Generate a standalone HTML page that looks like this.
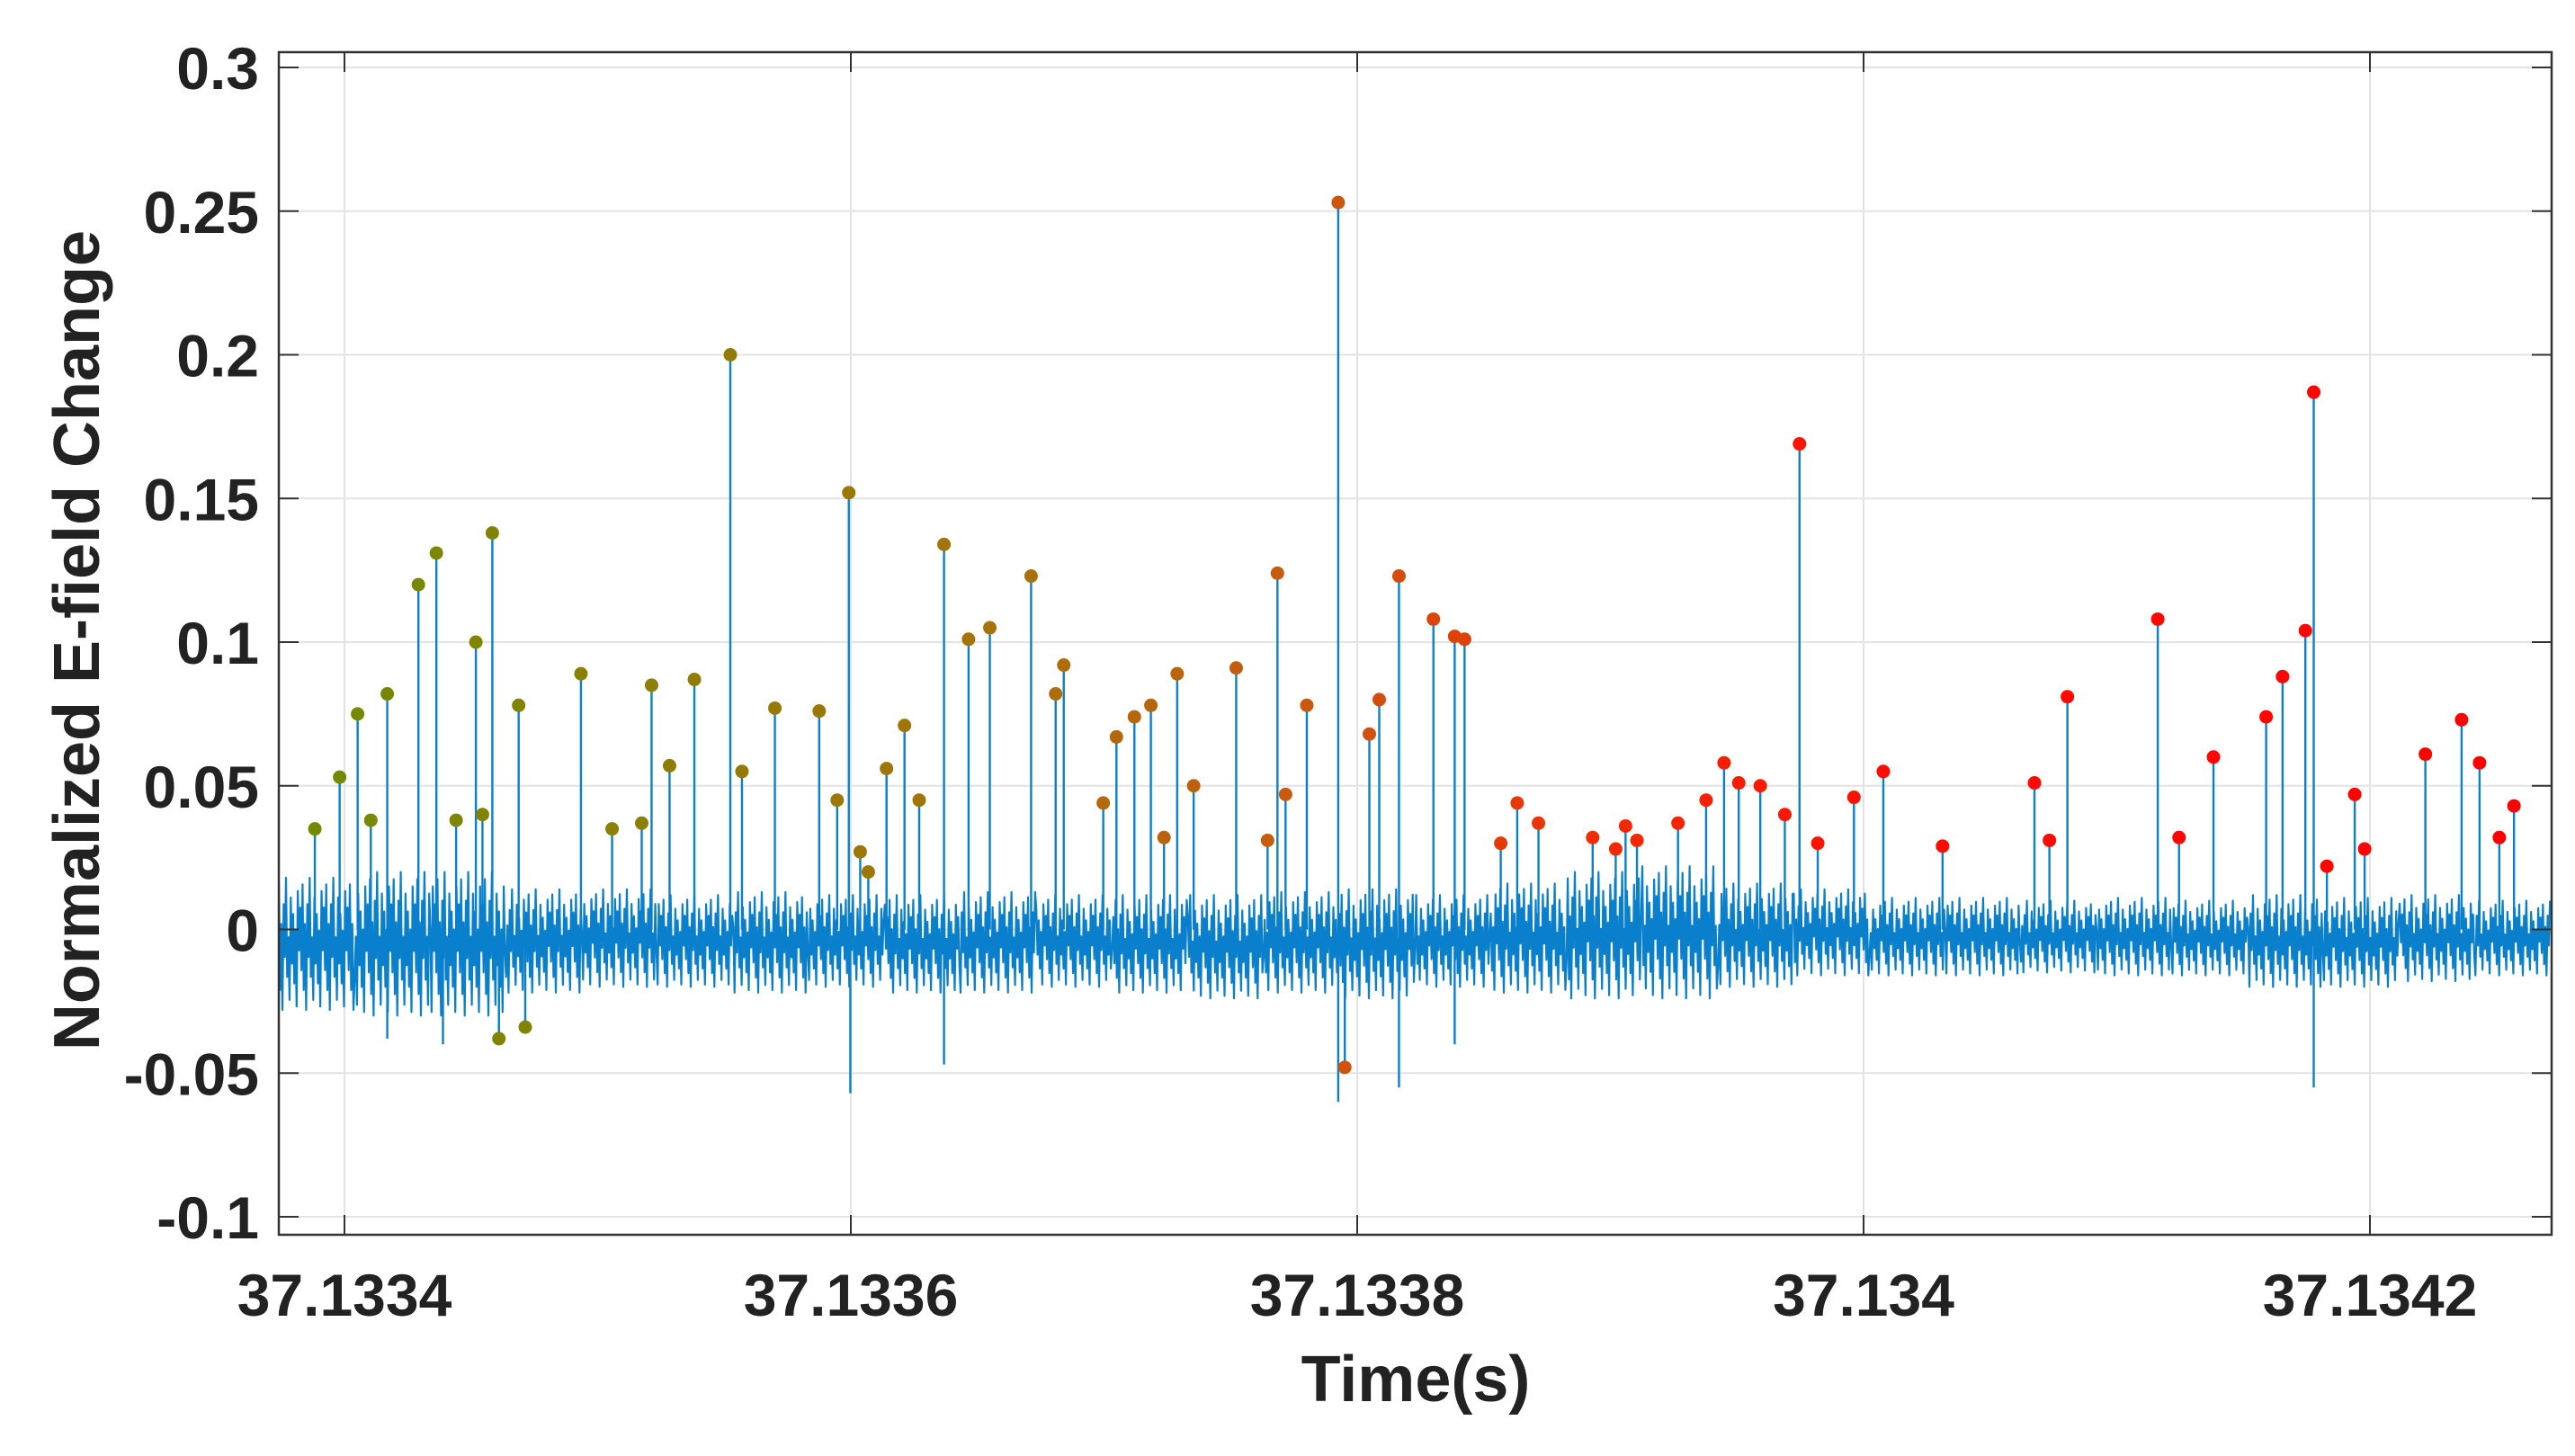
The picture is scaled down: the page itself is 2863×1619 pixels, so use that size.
<!DOCTYPE html>
<html><head><meta charset="utf-8"><title>Normalized E-field Change</title>
<style>html,body{margin:0;padding:0;background:#fff}svg{display:block}text{font-family:"Liberation Sans",Arial,sans-serif;font-weight:bold;fill:#222}</style>
</head><body>
<svg id="chart" width="2863" height="1619" viewBox="0 0 2863 1619" xmlns="http://www.w3.org/2000/svg">
<g id="grid"></g>
<g id="noise"></g>
<g id="spikes"></g>
<g id="markers"></g>
<g id="axes"></g>
<text x="1574" y="1558" font-size="72" text-anchor="middle">Time(s)</text>
<text transform="translate(110,712) rotate(-90)" font-size="72" text-anchor="middle">Normalized E-field Change</text>
</svg>
<script>
// time offsets in microseconds after 37.1334 s
const peakOffsetsUs=[-11.7,-1.9,5.2,10.4,16.9,29.2,36.3,44.1,51.9,54.5,58.4,61.0,68.8,71.4,93.4,105.7,117.4,121.3,128.4,138.2,152.4,157.0,170.0,187.5,194.6,199.2,203.7,206.9,214.1,221.2,227.0,236.8,246.5,254.9,271.2,280.9,284.1,299.7,304.9,312.0,318.5,323.7,328.9,335.4,352.2,364.6,368.5,371.7,380.1,392.5,395.1,404.8,408.7,416.5,430.1,438.5,442.4,456.7,463.2,471.6,493.0,502.1,506.0,510.5,526.7,537.8,544.9,550.7,559.2,568.9,574.7,581.9,596.2,607.8,631.2,667.5,673.4,680.5,716.2,724.6,738.2,759.0,765.5,774.5,777.8,783.0,794.0,797.9,821.9,836.2,843.3,851.1,856.9];
const peakValues=[0.035,0.053,0.075,0.038,0.082,0.120,0.131,0.038,0.100,0.040,0.138,-0.038,0.078,-0.034,0.089,0.035,0.037,0.085,0.057,0.087,0.200,0.055,0.077,0.076,0.045,0.152,0.027,0.020,0.056,0.071,0.045,0.134,0.101,0.105,0.123,0.082,0.092,0.044,0.067,0.074,0.078,0.032,0.089,0.050,0.091,0.031,0.124,0.047,0.078,0.253,-0.048,0.068,0.080,0.123,0.108,0.102,0.101,0.030,0.044,0.037,0.032,0.028,0.036,0.031,0.037,0.045,0.058,0.051,0.050,0.040,0.169,0.030,0.046,0.055,0.029,0.051,0.031,0.081,0.108,0.032,0.060,0.074,0.088,0.104,0.187,0.022,0.047,0.028,0.061,0.073,0.058,0.032,0.043];
const negSpikeOffsetsUs=[38.9,16.9,199.8,236.8,392.5,416.5,438.5,777.8,61.0];
const negSpikeValues=[-0.040,-0.038,-0.057,-0.047,-0.060,-0.055,-0.040,-0.055,-0.038];
const noiseUpper=[0.018,0.02,0.02,0.014,0.014,0.012,0.013,0.012,0.012,0.013,0.012,0.012,0.012,0.013,0.014,0.012,0.016,0.02,0.022,0.016,0.014,0.011,0.011,0.01,0.011,0.01,0.012,0.011,0.012,0.01];
const noiseLower=[-0.028,-0.03,-0.03,-0.022,-0.02,-0.02,-0.022,-0.02,-0.022,-0.022,-0.02,-0.022,-0.024,-0.022,-0.024,-0.02,-0.022,-0.024,-0.024,-0.02,-0.016,-0.016,-0.016,-0.015,-0.016,-0.016,-0.02,-0.02,-0.018,-0.016];
const xTickUs=[0,200,400,600,800];
const xTickLabels=["37.1334","37.1336","37.1338","37.134","37.1342"];
const yTicks=[0.3,0.25,0.2,0.15,0.1,0.05,0,-0.05,-0.1];
const yTickLabels=["0.3","0.25","0.2","0.15","0.1","0.05","0","-0.05","-0.1"];

const L=310,R=2837,T=58,B=1373;
const X0=-25.9,X1=871.6;
function xs(u){return 383+(u)*(2635-383)/800;}
function ys(v){return 75+(0.3-v)*(1353-75)/0.4;}
const NS="http://www.w3.org/2000/svg";
function mk(tag,parent,attrs){const e=document.createElementNS(NS,tag);for(const k in attrs)e.setAttribute(k,attrs[k]);parent.appendChild(e);return e;}
const grid=document.getElementById('grid'),axes=document.getElementById('axes');
mk('rect',grid,{x:L,y:T,width:R-L,height:B-T,fill:'#fff'});
xTickUs.forEach((u,i)=>{
 const x=xs(u);
 const g=mk('line',grid,{x1:x,x2:x,y1:T,y2:B,stroke:'#e3e3e3','stroke-width':2});
 
 
 mk('line',axes,{x1:x,x2:x,y1:B,y2:B-22,stroke:'#333','stroke-width':2});
 mk('line',axes,{x1:x,x2:x,y1:T,y2:T+22,stroke:'#333','stroke-width':2});
 const t=mk('text',axes,{x:x,y:1463,'font-size':66,'text-anchor':'middle'});
 t.textContent=xTickLabels[i];
 
 
});
yTicks.forEach((v,i)=>{
 const y=ys(v);
 const g=mk('line',grid,{x1:L,x2:R,y1:y,y2:y,stroke:'#e3e3e3','stroke-width':2});
 
 
 mk('line',axes,{x1:L,x2:L+22,y1:y,y2:y,stroke:'#333','stroke-width':2});
 mk('line',axes,{x1:R,x2:R-22,y1:y,y2:y,stroke:'#333','stroke-width':2});
 const t=mk('text',axes,{x:288,y:y+24,'font-size':66,'text-anchor':'end'});
 t.textContent=yTickLabels[i];
 
 
});
const box=mk('rect',axes,{x:L,y:T,width:R-L,height:B-T,fill:'none',stroke:'#333','stroke-width':2.5});



// noise trace
const pat=[0.9,-0.7,0.3,-1,0.6,-0.2,1,-0.5,0.1,-0.85,0.7,-0.3,0.45,-0.6,0.2,-0.95,0.8,-0.1,0.55,-0.4];
let pts=[];const nseg=noiseUpper.length,per=64;
for(let s=0;s<nseg;s++){
 const mid=(noiseUpper[s]+noiseLower[s])/2,half=(noiseUpper[s]-noiseLower[s])/2;
 for(let k=0;k<per;k++){
  const u=X0+(s+k/per)*(X1-X0)/nseg;
  pts.push(xs(u).toFixed(1)+','+ys(mid+half*pat[(s*7+k)%pat.length]).toFixed(1));
 }
}
const noise=mk('polyline',document.getElementById('noise'),{points:pts.join(' '),fill:'none',stroke:'#0a80cc','stroke-width':2.2,'stroke-linejoin':'round'});



const spikes=document.getElementById('spikes');
negSpikeOffsetsUs.forEach((u,i)=>{
 const l=mk('line',spikes,{x1:xs(u),x2:xs(u),y1:ys(0),y2:ys(negSpikeValues[i]),stroke:'#0a80cc','stroke-width':2.4});
 
 
});
const stops=[[0,[115,138,0]],[0.3,[165,115,10]],[0.45,[200,90,15]],[0.58,[240,45,5]],[0.72,[255,12,0]],[1,[255,0,0]]];
function col(f){for(let i=1;i<stops.length;i++){if(f<=stops[i][0]){const a=stops[i-1],b=stops[i],t=(f-a[0])/(b[0]-a[0]);return 'rgb('+a[1].map((c,j)=>Math.round(c+(b[1][j]-c)*t)).join(',')+')';}}return 'rgb(255,0,0)';}
const markers=document.getElementById('markers');
peakOffsetsUs.forEach((u,i)=>{
 const x=xs(u),v=peakValues[i];
 const l=mk('line',spikes,{x1:x,x2:x,y1:ys(0),y2:ys(v),stroke:'#0a80cc','stroke-width':2.4});
 
 
 const f=(u-peakOffsetsUs[0])/(peakOffsetsUs[peakOffsetsUs.length-1]-peakOffsetsUs[0]);
 const c=mk('circle',markers,{cx:x,cy:ys(v),r:7.5,fill:col(f)});
 
 
});
</script>
</body></html>
